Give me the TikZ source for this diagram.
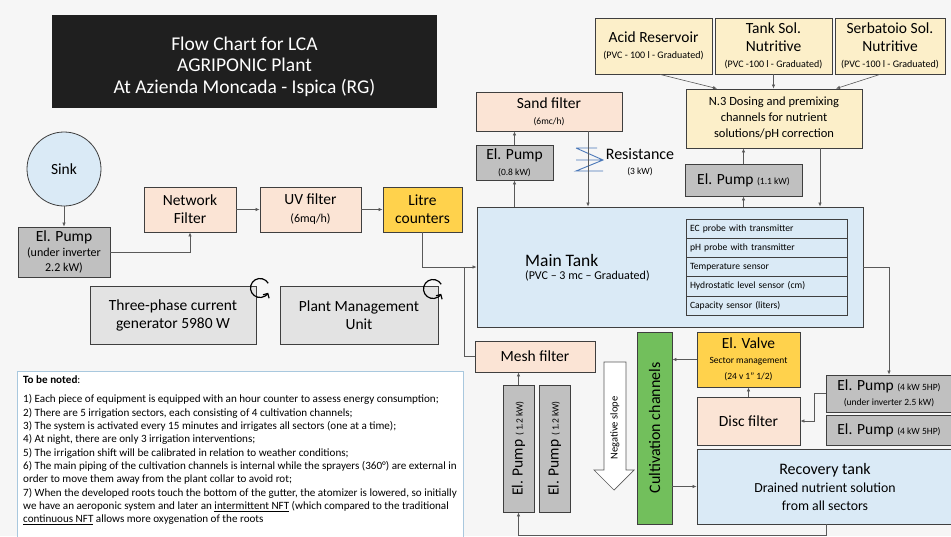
\documentclass[tikz,border=0pt]{standalone}
\usepackage{fontspec}
\setmainfont{Carlito}
\usepackage{graphicx}
\usepackage{tikz}
\usetikzlibrary{arrows.meta,calc}
\definecolor{bg}{HTML}{F6F6F6}
\definecolor{edge}{HTML}{3F3F3F}
\definecolor{wire}{HTML}{595959}
\definecolor{peach}{HTML}{FBE4D5}
\definecolor{cream}{HTML}{FCEFC9}
\definecolor{pumpgray}{HTML}{C0C0C0}
\definecolor{lightgray}{HTML}{E3E3E3}
\definecolor{water}{HTML}{DAEAF6}
\definecolor{amber}{HTML}{FFD24C}
\definecolor{leaf}{HTML}{72BF5C}
\definecolor{night}{HTML}{1F1F1F}
\definecolor{frame}{HTML}{A9C8DE}
\definecolor{heater}{HTML}{4A78B8}
\tikzset{
  unit/.style={draw=edge, line width=0.8pt, align=center, inner sep=1pt, font=\fontsize{15.5}{18}\selectfont},
  filter/.style={unit, fill=peach},
  pump/.style={unit, fill=pumpgray},
  tank/.style={unit, fill=water},
  counter/.style={unit, fill=amber},
  reservoir/.style={unit, fill=cream},
  panel/.style={unit, fill=lightgray},
  sensor/.style={draw=edge, line width=0.6pt, fill=water, minimum width=161pt, minimum height=19.2pt,
    text width=153pt, align=left, inner sep=0pt, font=\fontsize{9.6}{10.5}\selectfont},
  flow/.style={draw=wire, line width=0.6pt, -{Latex[length=4pt,width=3.4pt]}},
  pipe/.style={draw=wire, line width=0.6pt},
  cycle/.style={draw=black, line width=1.2pt, -{Straight Barb[length=3.5pt]}},
  lab/.style={font=\fontsize{15.5}{18}\selectfont, align=center}
}
\newcommand{\smallnote}[1]{{\fontsize{9.5}{11}\selectfont #1}}
\newcommand{\pvcnote}[1]{{\fontsize{10}{11.5}\selectfont #1}}
\newcommand{\midnote}[1]{{\fontsize{12}{14}\selectfont #1}}
\newcommand{\tanknote}[1]{{\fontsize{13.8}{16.5}\selectfont #1}}

\begin{document}
\begin{tikzpicture}[x=1pt, y=-1pt]
  \useasboundingbox (0,0) rectangle (951,536);
  \fill[bg] (0,0) rectangle (951,536);

  % title
  \node[fill=night, minimum width=385, minimum height=93] (title) at (244.5,61.5) {};
  \node[text=white, align=center, font=\fontsize{19.5}{21.5}\selectfont] (titletext) at ($(title)+(0,5)$)
        {Flow Chart for LCA\\AGRIPONIC Plant\\At Azienda Moncada - Ispica (RG)};

  % nutrient reservoirs and dosing
  \node[reservoir, minimum width=117, minimum height=56] (acid) at (653.5,46)
        {Acid Reservoir\\[-2pt]\pvcnote{(PVC - 100 l - Graduated)}};
  \node[reservoir, minimum width=117, minimum height=56] (tanksol) at (773.5,46)
        {Tank Sol.\\Nutritive\\[-2pt]\pvcnote{(PVC -100 l - Graduated)}};
  \node[reservoir, minimum width=110, minimum height=56] (serb) at (890,46)
        {Serbatoio Sol.\\Nutritive\\[-2pt]\pvcnote{(PVC -100 l - Graduated)}};
  \node[reservoir, minimum width=176, minimum height=59, font=\fontsize{12.5}{16}\selectfont] (dosing) at (774,118.5)
        {N.3 Dosing and premixing\\channels for nutrient\\solutions/pH correction};

  % upper pumps and sand filter
  \node[filter, minimum width=146, minimum height=39] (sand) at (549,111.5)
        {Sand filter\\[-2pt]\smallnote{(6mc/h)}};
  \node[pump, minimum width=77, minimum height=35] (pumpA) at (514.5,162.5)
        {El. Pump\\[-2pt]\smallnote{(0.8 kW)}};
  \node[pump, minimum width=117, minimum height=32] (pumpB) at (743.5,180)
        {El. Pump \smallnote{(1.1 kW)}};

  % main tank with sensors
  \node[tank, minimum width=386, minimum height=120] (tank) at (670,267) {};
  \node[anchor=west, align=left, inner sep=0pt] (tanklab) at (525,268)
        {{\fontsize{17.5}{20}\selectfont Main Tank}\\[1pt]{\fontsize{12}{14}\selectfont (PVC -- 3 mc -- Graduated)}};
  \foreach \txt [count=\i] in {EC probe with transmitter, pH probe with transmitter,
      Temperature sensor, Hydrostatic level sensor (cm), Capacity sensor (liters)}
    \node[sensor] (s\i) at (766.5,{219+(\i-0.5)*19.2}) {\txt};

  % water intake line
  \node[circle, draw=edge, fill=water, line width=0.8pt, minimum size=74, lab] (sink) at (64,169) {Sink};
  \node[pump, minimum width=92, minimum height=50] (pumpS) at (64,252)
        {El. Pump\\[-3pt]\midnote{(under inverter}\\[-3pt]\midnote{2.2 kW)}};
  \node[filter, minimum width=92, minimum height=45] (netf) at (190,209.5) {Network\\Filter};
  \node[filter, minimum width=101, minimum height=45] (uvf) at (310.5,209.5)
        {UV filter\\\midnote{(6mq/h)}};
  \node[counter, minimum width=79, minimum height=45] (litre) at (422.5,209.5) {Litre\\counters};

  \node[panel, minimum width=166, minimum height=58] (gen) at (173,315) {Three-phase current\\generator 5980 W};
  \node[panel, minimum width=158, minimum height=58] (pmu) at (359,315) {Plant Management\\Unit};
  \draw[cycle] (260,288) ++(-30:9.5) arc (-30:-330:9.5);
  \draw[cycle] (433,289) ++(-30:9.5) arc (-30:-330:9.5);

  % irrigation side
  \node[filter, minimum width=120, minimum height=31] (mesh) at (535,356.5) {Mesh filter};
  \node[pump, minimum width=31, minimum height=127] (pumpL) at (518.5,448.5)
        {\rotatebox{90}{El. Pump \smallnote{( 1.2 kW)}}};
  \node[pump, minimum width=31, minimum height=127] (pumpR) at (554.5,448.5)
        {\rotatebox{90}{El. Pump \smallnote{( 1.2 kW)}}};
  \draw[draw=wire, fill=white, line width=0.7pt] (604,362) -- (626,362) -- (626,470) -- (634,470)
        -- (614,490) -- (594,470) -- (604,470) -- cycle;
  \node[rotate=90, font=\fontsize{10.5}{12}\selectfont] (slope) at (615,428) {Negative slope};
  \node[unit, fill=leaf, minimum width=35, minimum height=192, font=\fontsize{16}{18}\selectfont] (cult) at (654.5,428)
        {\rotatebox{90}{Cultivation channels}};
  \node[counter, minimum width=103, minimum height=55] (valve) at (748.5,359.5)
        {El. Valve\\[-3pt]\smallnote{Sector management}\\[-2pt]\smallnote{(24 v 1'' 1/2)}};
  \node[filter, minimum width=103, minimum height=48] (disc) at (748.5,421) {Disc filter};
  \node[pump, minimum width=126, minimum height=37] (pump5a) at (889,393.5)
        {El. Pump \smallnote{(4 kW 5HP)}\\[-3pt]\smallnote{(under inverter 2.5 kW)}};
  \node[pump, minimum width=126, minimum height=30] (pump5b) at (889,430)
        {El. Pump \smallnote{(4 kW 5HP)}};
  \node[tank, minimum width=256, minimum height=75, font=\fontsize{16}{18}\selectfont] (recov) at (825,486.5)
        {Recovery tank\\\tanknote{Drained nutrient solution}\\\tanknote{from all sectors}};

  % resistance
  \draw[heater, line width=0.9pt] (576,148) -- (597,148) (576,148) -- (603,160) -- (576,171) -- (603,171)
        (576,160) -- (603,160);
  \node[lab, font=\fontsize{16}{18}\selectfont] (res) at (640,162) {Resistance\\[-3pt]\smallnote{(3 kW)}};

  % connectors
  \draw[flow] ([xshift=6.5pt]acid.south) -- ([xshift=-57pt]dosing.north);
  \draw[flow] (tanksol.south) -- (tanksol.south |- dosing.north);
  \draw[flow] ([xshift=-10pt]serb.south) -- ([xshift=62pt]dosing.north);
  \draw[flow] (pumpA.south |- tank.north) -- (pumpA.south);
  \draw[flow] (pumpA.north) -- (pumpA.north |- sand.south);
  \draw[flow] ([xshift=39pt]sand.south) -- ([xshift=39pt]sand.south |- tank.north);
  \draw[flow] (pumpB.south |- tank.north) -- (pumpB.south);
  \draw[flow] (pumpB.north) -- (pumpB.north |- dosing.south);
  \draw[flow] ([xshift=46pt]dosing.south) -- ([xshift=46pt]dosing.south |- tank.north);

  \draw[flow] (sink.south) -- (pumpS.north);
  \draw[flow] (pumpS.east) -| (netf.south);
  \draw[flow] (netf.east) -- (uvf.west);
  \draw[flow] (uvf.east) -- (litre.west);
  \draw[flow] (litre.south) |- (tank.west);
  \draw[pipe] (mesh.west) -| ($(tank.west)+(-12,0)$);

  \draw[flow] (tank.east) -| (pump5a.north);
  \draw[flow] (pump5a.west) -- ++(-11,0) |- (disc.east);
  \draw[flow] (disc.north) -- (valve.south);
  \draw[flow] (valve.west) -- (valve.west -| cult.east);
  \draw[flow] (cult.east |- recov.west) -- (recov.west);
  \draw[flow] ([xshift=1pt]recov.south) -- ++(0,11) -| (pumpL.south);
  \draw[flow] (pumpL.north) -- (pumpL.north |- mesh.south);

  % notes
  \draw[draw=frame, fill=white, line width=0.8pt] (17,371) rectangle (463,545);
  \node[anchor=north west, align=left, inner sep=0pt, font=\fontsize{11.1}{13.3}\selectfont] (notes) at (23,376)
        {\textbf{To be noted}:\\[5.7pt]
         1) Each piece of equipment is equipped with an hour counter to assess energy consumption;\\
         2) There are 5 irrigation sectors, each consisting of 4 cultivation channels;\\
         3) The system is activated every 15 minutes and irrigates all sectors (one at a time);\\
         4) At night, there are only 3 irrigation interventions;\\
         5) The irrigation shift will be calibrated in relation to weather conditions;\\
         6) The main piping of the cultivation channels is internal while the sprayers (360°) are external in\\
         order to move them away from the plant collar to avoid rot;\\
         7) When the developed roots touch the bottom of the gutter, the atomizer is lowered, so initially\\
         we have an aeroponic system and later an \underline{intermittent NFT} (which compared to the traditional\\
         \underline{continuous NFT} allows more oxygenation of the roots};
\end{tikzpicture}
\end{document}
